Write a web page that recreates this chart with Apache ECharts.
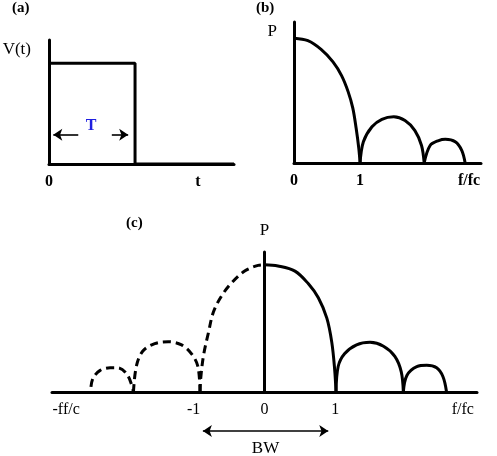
<!DOCTYPE html>
<html>
<head>
<meta charset="utf-8">
<script src="https://cdn.jsdelivr.net/npm/echarts@6/dist/echarts.min.js"></script>
<style>
  html, body { margin: 0; padding: 0; background: #fff; }
  #chart { width: 497px; height: 456px; }
</style>
</head>
<body>
<div id="chart"></div>
<script>
// (a) rectangular pulse, time in units of T
const pulse = [[0, 1], [1, 1], [1, 0], [2.15, 0]]
const tArrowLeft = [[0.34, 0.29], [0.05, 0.29]]
const tArrowRight = [[0.73, 0.29], [0.92, 0.29]]
const tLabelAt = [0.49, 0.38]
const aTicks = [0, 1.73]
const aTickText = ['0', 't']

// (b) one-sided spectrum, f/fc
const bLobe1 = [[0, 1.0], [0.21, 0.98], [0.41, 0.91], [0.59, 0.81], [0.72, 0.70], [0.82, 0.57], [0.89, 0.44], [0.94, 0.28], [0.98, 0.12], [1.0, 0]]
const bLobe2 = [[1.0, 0], [1.05, 0.17], [1.18, 0.29], [1.33, 0.35], [1.51, 0.37], [1.68, 0.34], [1.83, 0.26], [1.93, 0.14], [1.97, 0]]
const bLobe3 = [[1.97, 0], [2.06, 0.14], [2.19, 0.18], [2.29, 0.19], [2.44, 0.17], [2.54, 0.10], [2.59, 0]]
const bTicks = [0, 1, 2.65]
const bTickText = ['0', '1', 'f/fc']

// (c) two-sided spectrum, negative side dashed
const cSolid1 = [[0, 1.0], [0.19, 0.99], [0.43, 0.95], [0.62, 0.85], [0.76, 0.74], [0.88, 0.58], [0.95, 0.39], [0.99, 0.18], [1.01, 0]]
const cSolid2 = [[1.01, 0], [1.04, 0.20], [1.13, 0.30], [1.30, 0.37], [1.49, 0.39], [1.68, 0.36], [1.84, 0.28], [1.93, 0.16], [1.96, 0]]
const cSolid3 = [[1.96, 0], [2.01, 0.13], [2.15, 0.20], [2.29, 0.21], [2.43, 0.19], [2.52, 0.12], [2.57, 0]]
const cDash1 = [[-0.91, 0], [-0.90, 0.11], [-0.86, 0.29], [-0.79, 0.47], [-0.72, 0.63], [-0.60, 0.76], [-0.46, 0.86], [-0.28, 0.95], [-0.09, 0.995], [0, 1.0]]
const cDash2 = [[-1.85, 0], [-1.81, 0.20], [-1.72, 0.32], [-1.55, 0.38], [-1.36, 0.395], [-1.17, 0.37], [-1.03, 0.30], [-0.94, 0.20], [-0.91, 0]]
const cDash3 = [[-2.45, 0.04], [-2.42, 0.11], [-2.32, 0.17], [-2.18, 0.19], [-2.07, 0.19], [-1.93, 0.13], [-1.85, 0]]
const cTicks = [-2.8, -1, 0, 1, 2.8]
const cTickText = ['-ff/c', '-1', '0', '1', 'f/fc']
const bwSpan = [[-0.87, 0.5], [0.90, 0.5]]

const serif = 'Liberation Serif'

const tickFmt = (ticks, texts) => (v) => {
  const i = ticks.findIndex(t => Math.abs(t - v) < 1e-6)
  return i >= 0 ? texts[i] : ''
}

function xAxisOf(gridIndex, min, max, ticks, texts, bold) {
  return {
    type: 'value', gridIndex, min, max,
    axisLine: { onZero: false, lineStyle: { color: '#000', width: 3 } },
    axisTick: { show: false },
    splitLine: { show: false },
    axisLabel: {
      customValues: ticks,
      formatter: tickFmt(ticks, texts),
      margin: 10,
      color: '#000',
      fontFamily: serif,
      fontSize: 16,
      fontWeight: bold ? 'bold' : 'normal',
      showMinLabel: true,
      showMaxLabel: true,
      hideOverlap: false
    }
  }
}

function yAxisOf(gridIndex, max, name, nameGap, nameStyle, onZero) {
  return {
    type: 'value', gridIndex, min: 0, max,
    name,
    nameLocation: 'end',
    nameGap,
    nameTextStyle: Object.assign({ color: '#000', fontFamily: serif, fontSize: 17 }, nameStyle),
    axisLine: { onZero, lineStyle: { color: '#000', width: 3 } },
    axisTick: { show: false },
    axisLabel: { show: false },
    splitLine: { show: false }
  }
}

function curve(axisIndex, data, dashed) {
  return {
    type: 'line',
    xAxisIndex: axisIndex,
    yAxisIndex: axisIndex,
    data,
    symbol: 'none',
    smooth: 0.35,
    clip: false,
    silent: true,
    lineStyle: { color: '#000', width: 3, type: dashed ? [8, 5] : 'solid' }
  }
}

function arrow(axisIndex, coords, symbols, label) {
  return {
    type: 'lines',
    coordinateSystem: 'cartesian2d',
    xAxisIndex: axisIndex,
    yAxisIndex: axisIndex,
    silent: true,
    clip: false,
    symbol: symbols,
    symbolSize: 9,
    lineStyle: { color: '#000', width: 1.6, opacity: 1 },
    label: label ? {
      show: true, position: 'insideMiddleBottom', distance: 9, formatter: label,
      color: '#000', fontFamily: serif, fontSize: 17
    } : { show: false },
    data: [{ coords }]
  }
}

const chart = echarts.init(document.getElementById('chart'))
const titleStyle = { color: '#000', fontFamily: serif, fontSize: 15, fontWeight: 'bold' }

chart.setOption({
  animation: false,
  backgroundColor: '#fff',
  title: [
    { text: '(a)', left: 12, top: 1, padding: 0, textStyle: titleStyle },
    { text: '(b)', left: 256, top: 1, padding: 0, textStyle: titleStyle },
    { text: '(c)', left: 126, top: 216, padding: 0, textStyle: titleStyle }
  ],
  grid: [
    { left: 49, top: 40, width: 185, height: 124 },
    { left: 294, top: 22, width: 187, height: 141 },
    { left: 52, top: 252, width: 425, height: 140 },
    { left: 52, top: 420, width: 425, height: 22 }
  ],
  xAxis: [
    xAxisOf(0, 0, 2.15, aTicks, aTickText, true),
    xAxisOf(1, 0, 2.83, bTicks, bTickText, true),
    xAxisOf(2, -3, 3, cTicks, cTickText, false),
    { type: 'value', gridIndex: 3, min: -3, max: 3, show: false }
  ],
  yAxis: [
    yAxisOf(0, 1.23, 'V(t)', -10, { align: 'right', verticalAlign: 'middle', padding: [0, 18, 0, 0] }, false),
    yAxisOf(1, 1.13, 'P', -10, { align: 'right', verticalAlign: 'middle', padding: [0, 17, 0, 0] }, false),
    yAxisOf(2, 1.1, 'P', 13, { align: 'center', verticalAlign: 'bottom' }, true),
    { type: 'value', gridIndex: 3, min: 0, max: 1, show: false }
  ],
  series: [
    Object.assign(curve(0, pulse, false), {
      smooth: false,
      markPoint: {
        silent: true,
        symbol: 'circle',
        symbolSize: 1,
        itemStyle: { color: 'rgba(0,0,0,0)' },
        label: {
          show: true, position: 'inside', formatter: 'T',
          color: '#1f1fe0', fontFamily: serif, fontSize: 16, fontWeight: 'bold'
        },
        data: [{ coord: tLabelAt }]
      }
    }),
    arrow(0, tArrowLeft, ['none', 'arrow']),
    arrow(0, tArrowRight, ['none', 'arrow']),
    curve(1, bLobe1),
    curve(1, bLobe2),
    curve(1, bLobe3),
    curve(2, cSolid1),
    curve(2, cSolid2),
    curve(2, cSolid3),
    curve(2, cDash1, true),
    curve(2, cDash2, true),
    curve(2, cDash3, true),
    arrow(3, bwSpan, ['arrow', 'arrow'], 'BW')
  ]
})
</script>
</body>
</html>
